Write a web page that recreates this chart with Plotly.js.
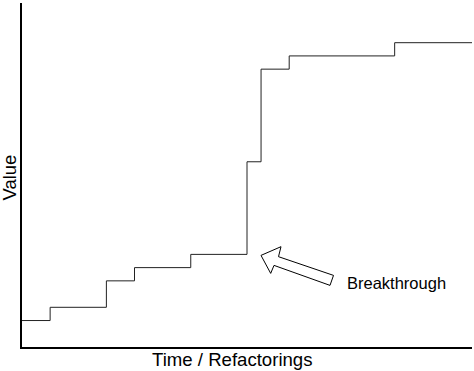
<!DOCTYPE html>
<html>
<head>
<meta charset="utf-8">
<script src="https://cdn.plot.ly/plotly-3.0.1.min.js"></script>
<style>
  html, body { margin: 0; padding: 0; background: #fff; }
  #chart { width: 474px; height: 371px; }
</style>
</head>
<body>
<div id="chart"></div>
<script>
// Data: step progression of value over time/refactorings
const time  = [0, 1, 3, 4, 6, 8, 8.5, 9.5, 13.25, 16];
const value = [2, 3, 5, 6, 7, 14, 21, 22, 23, 23];
const xTitle = 'Time / Refactorings';
const yTitle = 'Value';
const noteText = 'Breakthrough';

const W = 474, H = 371;
const M = { l: 22, r: 2, t: 3, b: 24 };
const xRange = [0, 16], yRange = [0, 26];
const plotW = W - M.l - M.r, plotH = H - M.t - M.b;
const pxX = plotW / (xRange[1] - xRange[0]);
const pxY = plotH / (yRange[1] - yRange[0]);

// breakthrough = start of the largest jump
let bi = 0, best = -Infinity;
for (let i = 1; i < value.length; i++) {
  const d = value[i] - value[i - 1];
  if (d > best) { best = d; bi = i; }
}
const bx = time[bi], by = value[bi - 1];

// hollow block arrow, offsets in pixels from the breakthrough corner
const arrowPx = [[14, 1], [34, -7.7], [31.5, 2.3], [86.5, 21], [83, 31], [27, 11], [23.7, 19]];
const path = arrowPx.map((p, i) =>
  (i === 0 ? 'M' : 'L') + (bx + p[0] / pxX) + ',' + (by - p[1] / pxY)
).join(' ') + ' Z';

const font = '"Liberation Sans", Arial, Helvetica, sans-serif';

const trace = {
  x: time, y: value,
  type: 'scatter', mode: 'lines',
  line: { shape: 'hv', color: '#222', width: 1 },
  hoverinfo: 'skip'
};

const layout = {
  width: W, height: H,
  margin: M,
  paper_bgcolor: '#fff', plot_bgcolor: '#fff',
  showlegend: false,
  xaxis: { range: xRange, showgrid: false, zeroline: false, showticklabels: false,
           ticks: '', showline: true, linecolor: '#000', linewidth: 2, fixedrange: true },
  yaxis: { range: yRange, showgrid: false, zeroline: false, showticklabels: false,
           ticks: '', showline: true, linecolor: '#000', linewidth: 2, fixedrange: true },
  shapes: [{
    type: 'path', xref: 'x', yref: 'y', path: path,
    fillcolor: '#fff', line: { color: '#000', width: 1 }
  }],
  annotations: [
    { text: xTitle, xref: 'paper', yref: 'paper', x: 0.4676, y: -0.037,
      xanchor: 'center', yanchor: 'middle', showarrow: false,
      font: { family: font, size: 18.6, color: '#000' } },
    { text: yTitle, xref: 'paper', yref: 'paper', x: -0.028, y: 0.494, textangle: -90,
      xanchor: 'center', yanchor: 'middle', showarrow: false,
      font: { family: font, size: 18.4, color: '#000' } },
    { text: noteText, xref: 'paper', yref: 'paper', x: 0.832, y: 0.185,
      xanchor: 'center', yanchor: 'middle', showarrow: false,
      font: { family: font, size: 16.5, color: '#000' } }
  ]
};

Plotly.newPlot('chart', [trace], layout, { staticPlot: true, displayModeBar: false });
</script>
</body>
</html>
